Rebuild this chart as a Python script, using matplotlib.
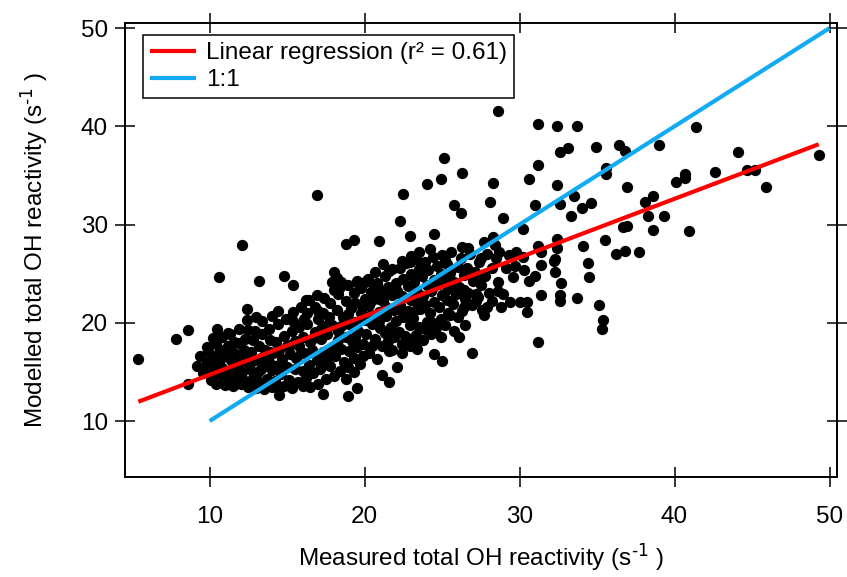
import matplotlib
matplotlib.use('Agg')
import matplotlib.pyplot as plt

# measured (x) vs modelled (y) total OH reactivity, s-1
# sparse points, x < 20
left_x = [5.4, 7.8, 8.6, 8.6, 9.8, 10.5, 10.6, 12.1, 13.2, 14.8,
          15.4, 16.2, 16.9, 18.8, 19.3, 14.5, 17.3, 18.9, 19.5, 18.8,
          19.3, 11.2, 11.6, 12.4, 12.4, 18.0, 17.9, 18.5]
left_y = [16.3, 18.4, 19.3, 13.8, 17.5, 19.4, 24.7, 27.9, 24.3, 24.8,
          23.8, 22.3, 33.0, 28.0, 28.4, 12.6, 12.8, 12.5, 13.4, 14.3,
          15.0, 19.0, 18.0, 21.4, 20.3, 25.2, 24.2, 24.2]

# sparse points, 20 <= x < 30
mid_x = [20.9, 28.6, 25.1, 26.3, 24.9, 24.0, 22.5, 28.3, 28.1, 25.8,
         26.2, 28.9, 22.3, 22.9, 24.5, 28.3, 28.4, 29.1, 29.7, 28.6,
         28.6, 29.6, 27.9, 27.7, 28.2, 27.2, 27.2, 26.4, 25.4, 26.1,
         26.9, 25.0, 24.5, 23.4, 22.4, 21.6, 22.1, 21.1, 21.6, 23.4,
         22.9, 27.7, 25.2, 26.3, 26.7, 27.5, 22.4, 23.0, 20.7, 21.8,
         22.9, 23.1, 23.7, 20.0, 29.4, 28.8]
mid_y = [28.3, 41.6, 36.8, 35.2, 34.6, 34.1, 33.1, 34.2, 32.3, 32.0,
         31.2, 30.7, 30.4, 28.8, 29.0, 28.7, 27.9, 25.6, 25.8, 24.2,
         23.2, 24.7, 21.6, 20.8, 22.2, 22.9, 22.2, 21.6, 21.0, 18.6,
         16.9, 16.1, 16.8, 17.3, 16.9, 17.1, 15.5, 14.7, 14.0, 18.3,
         18.3, 28.2, 26.4, 27.7, 27.6, 26.6, 26.3, 26.8, 25.2, 25.5,
         26.2, 24.9, 24.9, 24.2, 22.1, 21.6]

# sparse points, x >= 30
right_x = [31.2, 32.4, 33.7, 34.9, 36.4, 36.8, 32.6, 33.1, 31.2, 30.6,
           32.4, 35.6, 35.6, 36.9, 31.0, 32.6, 33.5, 34.0, 34.6, 33.3,
           30.2, 32.4, 34.1, 35.5, 36.7, 36.2, 36.8, 34.4, 31.2, 31.4,
           32.3, 39.0, 41.4, 44.1, 49.3, 42.6, 44.7, 45.2, 45.9, 40.7,
           40.7, 40.1, 38.6, 38.1, 38.3, 39.3, 36.9, 38.6, 40.9, 37.7,
           30.3, 31.4, 32.3, 32.2, 34.5, 32.7, 31.4, 32.6, 32.6, 33.7,
           35.1, 35.4, 35.3, 31.2, 30.5, 30.5, 30.0, 32.4, 30.6, 31.0]
right_y = [40.2, 40.0, 40.0, 37.9, 38.1, 37.5, 37.4, 37.8, 36.1, 34.6,
           34.0, 35.8, 35.1, 33.8, 32.0, 32.1, 32.9, 31.7, 32.2, 30.9,
           29.5, 28.5, 27.8, 28.4, 29.8, 27.0, 27.3, 26.1, 27.8, 27.2,
           26.5, 38.1, 39.9, 37.4, 37.1, 35.3, 35.6, 35.6, 33.8, 35.1,
           34.7, 34.3, 32.9, 32.3, 30.9, 30.9, 29.9, 29.4, 29.3, 27.2,
           25.4, 25.9, 25.2, 26.3, 24.7, 24.0, 22.8, 22.8, 22.2, 22.5,
           21.8, 20.3, 19.4, 18.0, 22.1, 21.1, 22.1, 27.6, 24.3, 24.8]

# dense band, x < 19
core_a_x = [9.2, 9.4, 9.6, 9.8, 9.9, 9.7,
            10.1, 10.2, 10.3, 10.4, 10.2, 10.4, 10.5,
            10.6, 10.7, 10.8, 10.9, 10.8, 11.0, 11.0,
            11.1, 11.2, 11.3, 11.4, 11.3, 11.5, 11.5,
            11.6, 11.7, 11.8, 11.9, 12.0, 11.9, 12.0,
            12.1, 12.2, 12.3, 12.3, 12.4, 12.5, 12.5,
            12.6, 12.7, 12.8, 12.8, 12.9, 13.0, 13.0, 12.9,
            13.1, 13.2, 13.2, 13.3, 13.4, 13.5, 13.4, 13.5,
            13.6, 13.7, 13.8, 13.8, 13.9, 14.0, 14.0, 14.0,
            14.1, 14.2, 14.3, 14.3, 14.4, 14.5, 14.5, 14.4,
            14.6, 14.7, 14.8, 14.8, 14.9, 15.0, 15.0,
            15.1, 15.2, 15.3, 15.3, 15.4, 15.5, 15.5, 15.4,
            15.6, 15.7, 15.8, 15.8, 15.9, 16.0, 16.0, 16.0,
            16.1, 16.2, 16.3, 16.3, 16.4, 16.5, 16.4, 16.5,
            16.6, 16.7, 16.8, 16.8, 16.9, 17.0, 17.0, 16.9,
            17.1, 17.2, 17.3, 17.3, 17.4, 17.5, 17.4, 17.5,
            17.6, 17.7, 17.8, 17.8, 17.9, 18.0, 18.0, 17.9,
            18.1, 18.2, 18.3, 18.3, 18.4, 18.5, 18.5, 18.4,
            18.6, 18.7, 18.8, 18.8, 18.9, 19.0, 19.0, 18.9]
core_a_y = [15.6, 16.6, 14.9, 16.0, 17.1, 15.3,
            14.2, 15.5, 16.6, 17.8, 18.5, 13.8, 14.9,
            16.0, 17.2, 18.6, 14.3, 15.4, 13.7, 16.6,
            15.0, 17.6, 14.0, 16.2, 18.9, 15.4, 13.6,
            16.9, 14.6, 15.8, 17.9, 13.8, 19.4, 16.4,
            15.0, 17.2, 14.1, 18.4, 16.0, 19.3, 13.5,
            15.3, 17.0, 14.4, 18.2, 16.2, 20.6, 13.4, 19.2,
            15.0, 17.6, 14.0, 16.4, 18.9, 13.3, 20.2, 15.6,
            17.2, 14.3, 16.0, 19.4, 18.2, 13.5, 15.2, 20.7,
            16.9, 14.1, 18.0, 15.6, 19.9, 13.3, 17.2, 21.2,
            14.8, 16.3, 18.7, 13.6, 20.4, 15.5, 17.6,
            14.2, 16.8, 19.2, 13.4, 21.1, 15.3, 18.1, 20.2,
            16.4, 14.0, 17.6, 19.6, 21.6, 15.1, 13.6, 18.6,
            16.9, 14.4, 19.9, 21.0, 15.7, 18.0, 22.3, 13.5,
            17.2, 14.9, 19.1, 21.6, 16.2, 20.4, 13.8, 22.8,
            15.3, 18.3, 17.0, 21.0, 19.7, 14.3, 22.5, 16.1,
            18.9, 20.6, 15.6, 22.0, 17.4, 23.3, 14.6, 19.8,
            16.6, 21.3, 18.2, 22.9, 15.1, 19.7, 17.3, 23.6,
            20.6, 16.0, 22.2, 18.6, 23.8, 17.1, 19.9, 15.5]

# dense band, x >= 19
core_b_x = [19.1, 19.2, 19.3, 19.3, 19.4, 19.5, 19.5, 19.4,
            19.6, 19.7, 19.8, 19.8, 19.9, 20.0, 20.0, 19.9,
            20.1, 20.2, 20.3, 20.3, 20.4, 20.5, 20.5, 20.4,
            20.6, 20.7, 20.8, 20.8, 20.9, 21.0, 21.0, 20.9,
            21.1, 21.2, 21.3, 21.3, 21.4, 21.5, 21.5, 21.4,
            21.6, 21.7, 21.8, 21.8, 21.9, 22.0, 22.0, 21.9,
            22.1, 22.2, 22.3, 22.3, 22.4, 22.5, 22.5, 22.4,
            22.6, 22.7, 22.8, 22.8, 22.9, 23.0, 23.0, 22.9,
            23.1, 23.2, 23.3, 23.3, 23.4, 23.5, 23.5, 23.4,
            23.6, 23.7, 23.8, 23.8, 23.9, 24.0, 24.0, 23.9,
            24.1, 24.2, 24.3, 24.3, 24.4, 24.5, 24.5, 24.4,
            24.6, 24.7, 24.8, 24.8, 24.9, 25.0, 25.0, 24.9,
            25.1, 25.2, 25.3, 25.3, 25.4, 25.5, 25.5,
            25.6, 25.7, 25.8, 25.8, 25.9, 26.0, 26.0,
            26.1, 26.2, 26.3, 26.4, 26.5, 26.5,
            26.6, 26.7, 26.8, 26.9, 27.0,
            27.1, 27.3, 27.4, 27.5,
            27.6, 27.8, 27.9, 28.0,
            28.2, 28.5, 28.7, 28.9,
            29.3, 29.8, 30.2]
core_b_y = [21.5, 18.1, 16.4, 23.0, 20.1, 24.3, 17.5, 22.0,
            19.2, 15.8, 21.0, 23.5, 17.8, 22.4, 20.3, 16.6,
            18.9, 24.5, 16.9, 21.8, 23.1, 19.9, 17.6, 20.8,
            22.6, 18.4, 24.1, 16.3, 21.1, 19.5, 23.3, 20.2,
            17.6, 22.2, 24.8, 19.0, 20.7, 23.6, 18.1, 21.6,
            25.3, 19.6, 22.8, 17.2, 21.3, 24.1, 20.2, 18.6,
            23.2, 19.1, 25.6, 21.8, 17.8, 20.6, 24.5, 22.7,
            18.7, 26.1, 21.2, 23.7, 19.8, 25.0, 22.3, 17.6,
            20.5, 24.2, 18.8, 26.5, 22.0, 25.5, 19.6, 23.1,
            21.4, 24.8, 18.2, 22.7, 26.2, 20.1, 23.8, 19.4,
            25.4, 21.0, 23.2, 18.9, 26.7, 22.1, 24.4, 20.0,
            19.5, 25.8, 21.6, 23.9, 20.4, 26.9, 22.8, 18.6,
            24.6, 19.8, 26.0, 22.3, 23.4, 20.8, 25.1,
            27.2, 21.9, 24.2, 19.2, 22.9, 25.7, 20.6,
            23.6, 26.6, 21.2, 24.9, 22.4, 19.8,
            25.6, 23.0, 27.0, 21.8, 24.3,
            25.2, 22.6, 26.2, 23.8,
            21.3, 24.8, 27.0, 23.0,
            25.6, 26.6, 27.2, 22.9,
            26.9, 27.2, 26.7]

# extra points filling the solid middle of the band
core_c_x = [11.2, 11.9, 12.6, 13.3, 13.9, 14.6, 15.2, 15.9, 16.6, 17.2,
            17.8, 18.3, 18.9, 19.4, 19.9, 20.4, 20.9, 21.4, 21.9, 22.4,
            22.9, 23.4, 23.9, 24.4, 24.9, 25.4, 25.9, 26.4, 26.9, 27.4,
            16.1, 17.0, 19.6, 20.6, 21.2, 23.5, 24.2, 18.2]
core_c_y = [16.5, 15.2, 16.6, 15.3, 17.0, 15.9, 17.7, 16.9, 18.3, 19.4,
            16.9, 19.2, 20.9, 18.6, 21.6, 22.2, 22.4, 22.9, 23.6, 21.1,
            20.6, 21.4, 21.8, 23.6, 25.0, 24.4, 23.6, 23.3, 25.1, 24.4,
            20.4, 21.2, 24.0, 23.7, 26.0, 27.2, 27.5, 24.6]

fit_slope = 0.597
fit_intercept = 8.74
one_to_one = [10, 50]

plt.rcParams['font.family'] = ['Liberation Sans', 'DejaVu Sans']
plt.rcParams['mathtext.default'] = 'regular'

fig = plt.figure(figsize=(8.47, 5.77), dpi=100)
ax = fig.add_axes([0.1472, 0.1738, 0.8406, 0.7869])

groups = [(left_x, left_y), (mid_x, mid_y), (right_x, right_y),
          (core_a_x, core_a_y), (core_b_x, core_b_y), (core_c_x, core_c_y)]
all_x = []
for xs, ys in groups:
    ax.scatter(xs, ys, s=66, c='black', linewidths=0, zorder=2)
    all_x += xs

x_fit = [min(all_x), max(all_x)]
ax.plot(x_fit, [fit_slope * x + fit_intercept for x in x_fit], color='#ff0000',
        lw=3, solid_capstyle='butt', zorder=3, label='Linear regression (r² = 0.61)')
ax.plot(one_to_one, one_to_one, color='#12aaf2', lw=3, solid_capstyle='butt',
        zorder=3, label='1:1')

ax.set_xlim(4.52, 50.46)
ax.set_ylim(4.33, 50.55)
ax.set_xticks([10, 20, 30, 40, 50])
ax.set_yticks([10, 20, 30, 40, 50])
for sp in ax.spines.values():
    sp.set_linewidth(1.4)
ax.tick_params(axis='both', which='major', direction='inout', length=14, width=1.1,
               top=True, right=True, labelsize=17.5)
ax.tick_params(axis='x', pad=14)
ax.tick_params(axis='y', pad=5)

ax.set_xlabel(r'Measured total OH reactivity (s$^{\text{-1}}$ )', fontsize=17.5, labelpad=10)
ax.set_ylabel(r'Modelled total OH reactivity (s$^{\text{-1}}$ )', fontsize=17.5, labelpad=22)

leg = ax.legend(loc='upper left', bbox_to_anchor=(0.0257, 0.973), borderaxespad=0,
                fontsize=17.5, frameon=True, fancybox=False, framealpha=1,
                handlelength=1.9, handletextpad=0.4, labelspacing=0.2,
                borderpad=0.3)
leg.get_frame().set_edgecolor('black')
leg.get_frame().set_linewidth(1.1)

fig.savefig('out.png', dpi=100)
